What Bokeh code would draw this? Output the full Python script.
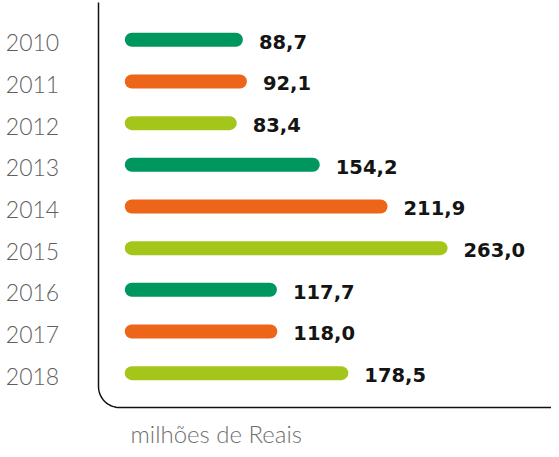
import numpy as np
from bokeh.plotting import figure
from bokeh.models import Range1d, ColumnDataSource
from bokeh.core.properties import value
from bokeh.embed import file_html
from bokeh.resources import INLINE

# ---- data ----
years = ["2010", "2011", "2012", "2013", "2014", "2015", "2016", "2017", "2018"]
values = [88.7, 92.1, 83.4, 154.2, 211.9, 263.0, 117.7, 118.0, 178.5]
value_labels = ["88,7", "92,1", "83,4", "154,2", "211,9", "263,0", "117,7", "118,0", "178,5"]
palette = ["#00975f", "#ec6518", "#a4c61b"]
unit_label = "milhões de Reais"

# ---- layout constants (pixels) ----
W, H = 551, 449
S = 1.1738      # px per unit value
X0 = 131.3      # canvas x of value 0
Y0 = 39.3       # canvas y of first row
DY = 41.67      # row spacing px

rows = list(range(len(years)))
colors = [palette[i % 3] for i in rows]

src = ColumnDataSource(dict(y=rows, v=values, zero=[0] * len(rows), lab=value_labels,
                            year=years, c=colors))

p = figure(width=W, height=H, output_backend="svg", toolbar_location=None,
           x_range=Range1d(-X0 / S, (W - X0) / S),
           y_range=Range1d((H - Y0) / DY, -Y0 / DY),
           min_border=0, min_border_left=0, min_border_right=0,
           min_border_top=0, min_border_bottom=0)
p.axis.visible = False
p.grid.visible = False
p.outline_line_color = None
p.background_fill_color = "white"
p.border_fill_color = "white"

# bars
p.segment(x0="zero", y0="y", x1="v", y1="y", source=src, line_color="c",
          line_width=14, line_cap="round")

# value labels
p.text(x="v", y="y", text="lab", source=src, x_offset=23, y_offset=2,
       text_baseline="alphabetic", text_align="left",
       text_font=value("DejaVu Sans"), text_font_style="bold",
       text_font_size="19.5px", text_color="#141414")

light_font = value("Lato Light, Lato, DejaVu Sans")

# year labels
p.text(x="zero", y="y", text="year", source=src, x_offset=32 - X0, y_offset=3,
       text_baseline="alphabetic", text_align="center",
       text_font=light_font, text_font_size="23px",
       text_color="#5f5f5f")

# axis line with rounded corner
def to_data(cx, cy):
    return (np.asarray(cx) - X0) / S, (np.asarray(cy) - Y0) / DY

r = 21.0
ax_x, ax_y, base_y = 98.0, 2.0, 407.0
t = np.linspace(0, np.pi / 2, 20)
cx = np.concatenate([[ax_x], ax_x + r - r * np.cos(t), [W + 5]])
cy = np.concatenate([[ax_y], base_y - r + r * np.sin(t), [base_y]])
dx, dy = to_data(cx, cy)
p.line(dx, dy, line_color="#111111", line_width=1.5)

# unit label
p.text(x=[0], y=[len(years) - 1], text=[unit_label], x_offset=-1.3,
       y_offset=433 - (Y0 + DY * (len(years) - 1)),
       text_baseline="alphabetic", text_align="left",
       text_font=light_font, text_font_size="24px",
       text_color="#6f6f6f")

open("out.html", "w").write(file_html(p, INLINE))
